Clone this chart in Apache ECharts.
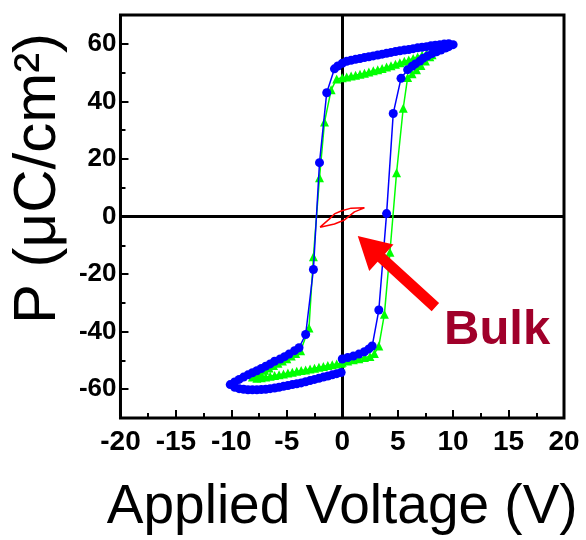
<!DOCTYPE html>
<html>
<head>
<meta charset="utf-8">
<script src="https://cdn.jsdelivr.net/npm/echarts@6/dist/echarts.min.js"></script>
<style>
  html, body { margin: 0; padding: 0; background: #fff; }
  #chart { width: 586px; height: 540px; }
</style>
</head>
<body>
<div id="chart"></div>
<script>
// thin film loop, 10 V sweep (blue)
const blueV = [0, 0.5, 1, 1.5, 2, 2.4, 2.7, 3.3, 4.0, 4.6, 5.3, 5.9, 6.3, 6.6, 7, 7.3, 7.7, 8.1, 8.5, 8.9, 9.3, 9.6, 10,
  9.6, 9.2, 8.8, 8.4, 8, 7.6, 7.2, 6.8, 6.4, 6, 5.6, 5.2, 4.8, 4.4, 4, 3.6, 3.2, 2.8, 2.4, 2, 1.6, 1.2, 0.8, 0.4, 0, -0.4, -0.7,
  -1.4, -2.05, -2.6, -3.3, -3.9,
  -4.3, -4.8, -5.2, -5.6, -6.1, -6.5, -6.9, -7.3, -7.7, -8.1, -8.5, -8.9, -9.3, -9.7, -10.1,
  -9.7, -9.3, -8.9, -8.5, -8.1, -7.7, -7.3, -6.9, -6.5, -6.1, -5.7, -5.3, -4.9, -4.5, -4.1, -3.7, -3.3, -2.9, -2.5, -2.1, -1.7, -1.3, -0.9, -0.5, -0.1];
const blueP = [-49.5, -49, -48.5, -47.8, -47, -46, -45, -32.5, 1, 35.8, 48, 51, 52.2, 53, 54, 55, 55.8, 56.6, 57.2, 57.8, 58.5, 59, 59.7,
  60, 59.9, 59.7, 59.5, 59.3, 59, 58.8, 58.6, 58.3, 58, 57.8, 57.6, 57.3, 57, 56.7, 56.4, 56.1, 55.8, 55.5, 55.2, 54.9, 54.6, 54.3, 53.9, 53.2, 52.3, 51.3,
  43, 18.7, -18.4, -41, -45.6,
  -46.6, -47.8, -48.7, -49.5, -50.3, -51.2, -52, -52.8, -53.6, -54.3, -55, -55.8, -56.6, -57.5, -58.4,
  -59.3, -59.8, -60, -60.2, -60.2, -60.2, -60.1, -60, -59.8, -59.6, -59.3, -59, -58.7, -58.4, -58.1, -57.8, -57.4, -57, -56.6, -56.2, -55.8, -55.4, -55, -54.6, -54.2];

// thin film loop, 8 V sweep (green)
const greenV = [0, 0.5, 1, 1.5, 2, 2.5, 2.9, 3.3, 3.8, 4.3, 4.9, 5.5, 5.9, 6.3, 6.7, 7.1, 7.5, 7.9, 8.1,
  7.6, 7.2, 6.8, 6.4, 6, 5.6, 5.2, 4.8, 4.4, 4, 3.6, 3.2, 2.8, 2.4, 2, 1.6, 1.2, 0.8, 0.4, 0, -0.5,
  -1.0, -1.6, -2.05, -2.6, -3.0, -3.75,
  -4.2, -4.6, -5, -5.4, -5.8, -6.2, -6.6, -7, -7.4, -7.8, -8.1,
  -7.7, -7.3, -6.9, -6.5, -6.1, -5.7, -5.3, -4.9, -4.5, -4.1, -3.7, -3.3, -2.9, -2.5, -2.1, -1.7, -1.3, -0.9, -0.5, -0.1];
const greenP = [-50.6, -50.2, -49.8, -49.4, -49, -48.6, -47.6, -45, -34, -12.4, 15.2, 37.6, 48.3, 49.6, 51, 52.5, 54, 55.5, 56.2,
  56.5, 56, 55.4, 54.9, 54.4, 53.9, 53.4, 52.9, 52.4, 51.9, 51.4, 51, 50.6, 50.2, 49.8, 49.4, 49.1, 48.8, 48.5, 48.2, 47.8,
  44, 32.8, 13.5, -14, -38.7, -46.6,
  -47.6, -48.5, -49.4, -50.2, -51, -51.8, -52.6, -53.4, -54.2, -55, -55.8,
  -56.2, -56, -55.8, -55.5, -55.2, -55, -54.7, -54.4, -54.1, -53.8, -53.5, -53.3, -53, -52.7, -52.4, -52.1, -51.8, -51.5, -51.2, -51];

// bulk loop (red)
const bulkV = [-2, -1.2, -0.7, -0.1, 0.8, 2, 1.1, 0.2, -0.7, -2];
const bulkP = [-3.7, -1, 0.9, 1.9, 2.9, 3, 1.6, -1.2, -2.6, -3.7];

const yLabels = [-60, -40, -20, 0, 20, 40, 60];
const yMinor = [-50, -30, -10, 10, 30, 50];

// arrow pointing at the bulk loop, in data units
const arrowTail = [8.4, -31.5];
const arrowTip = [1.4, -6.8];

function pairs(xs, ys) {
  return xs.map((x, i) => [x, ys[i]]);
}

const chart = echarts.init(document.getElementById("chart"));

const option = {
  backgroundColor: "#fff",
  animation: false,
  grid: {
    left: 117, right: 22, top: 15, bottom: 118,
    show: true, borderColor: "#000", borderWidth: 3, backgroundColor: "transparent",
  },
  xAxis: {
    type: "value",
    min: -20, max: 20, interval: 5,
    name: "Applied Voltage (V)",
    nameLocation: "middle",
    nameGap: 62,
    nameTextStyle: { fontFamily: "Liberation Sans, Arial", fontSize: 55, color: "#000" },
    axisLine: { onZero: false, show: false },
    axisTick: { inside: true, length: 8, lineStyle: { color: "#000", width: 2 } },
    minorTick: { show: true, splitNumber: 2, length: 5, lineStyle: { color: "#000", width: 2 } },
    splitLine: { show: false },
    axisLabel: {
      margin: 10,
      fontFamily: "Liberation Sans, Arial", fontWeight: 900, fontSize: 28, color: "#000",
    },
  },
  yAxis: [
    {
      type: "value",
      min: -70, max: 70,
      name: "P (\u03bcC/cm\u00b2)",
      nameLocation: "middle",
      nameGap: 50,
      nameTextStyle: {
        fontFamily: "Liberation Sans, Arial", fontSize: 60, color: "#000",
        padding: [0, 0, 0, 76],
      },
      axisLine: { onZero: false, show: false },
      axisTick: { inside: true, length: 8, customValues: yLabels, lineStyle: { color: "#000", width: 2 } },
      splitLine: { show: false },
      axisLabel: {
        margin: 4, customValues: yLabels,
        fontFamily: "Liberation Sans, Arial", fontWeight: 900, fontSize: 26, color: "#000",
      },
    },
    {
      type: "value",
      min: -70, max: 70,
      position: "left",
      axisLine: { show: false, onZero: false },
      axisTick: { inside: true, length: 5, customValues: yMinor, lineStyle: { color: "#000", width: 2 } },
      axisLabel: { show: false },
      splitLine: { show: false },
    },
  ],
  series: [
    {
      type: "line",
      name: "8 V",
      data: pairs(greenV, greenP),
      symbol: "triangle",
      symbolSize: 9,
      lineStyle: { color: "#00ff00", width: 1.5 },
      itemStyle: { color: "#00ff00" },
      z: 3,
      markLine: {
        silent: true,
        symbol: "none",
        label: { show: false },
        lineStyle: { color: "#000", width: 3, type: "solid" },
        data: [{ xAxis: 0 }, { yAxis: 0 }],
        z: 1,
      },
    },
    {
      type: "line",
      name: "10 V",
      data: pairs(blueV, blueP),
      symbol: "circle",
      symbolSize: 9,
      lineStyle: { color: "#0000ff", width: 1.5 },
      itemStyle: { color: "#0000ff" },
      z: 4,
    },
    {
      type: "line",
      name: "Bulk",
      data: pairs(bulkV, bulkP),
      symbol: "none",
      lineStyle: { color: "#ff0000", width: 1.5 },
      z: 5,
    },
  ],
};

chart.setOption(option);

// arrow + label
const tail = chart.convertToPixel({ gridIndex: 0 }, arrowTail);
const tip = chart.convertToPixel({ gridIndex: 0 }, arrowTip);
const dx = tip[0] - tail[0], dy = tip[1] - tail[1];
const len = Math.sqrt(dx * dx + dy * dy);
const ux = dx / len, uy = dy / len, nx = -uy, ny = ux;
const headLen = 32, headW = 18, bodyW = 5.5;
const bx = tip[0] - ux * headLen, by = tip[1] - uy * headLen;
const arrowPts = [
  [tail[0] + nx * bodyW, tail[1] + ny * bodyW],
  [bx + nx * bodyW, by + ny * bodyW],
  [bx + nx * headW, by + ny * headW],
  tip,
  [bx - nx * headW, by - ny * headW],
  [bx - nx * bodyW, by - ny * bodyW],
  [tail[0] - nx * bodyW, tail[1] - ny * bodyW],
];

chart.setOption({
  graphic: [
    {
      type: "polygon",
      shape: { points: arrowPts },
      style: { fill: "#ff0000" },
      z: 100,
    },
    {
      type: "text",
      left: 444,
      top: 306,
      style: {
        text: "Bulk",
        fill: "#a0002a",
        font: "bold 49px 'Liberation Sans', Arial",
      },
      z: 100,
    },
  ],
});
</script>
</body>
</html>
